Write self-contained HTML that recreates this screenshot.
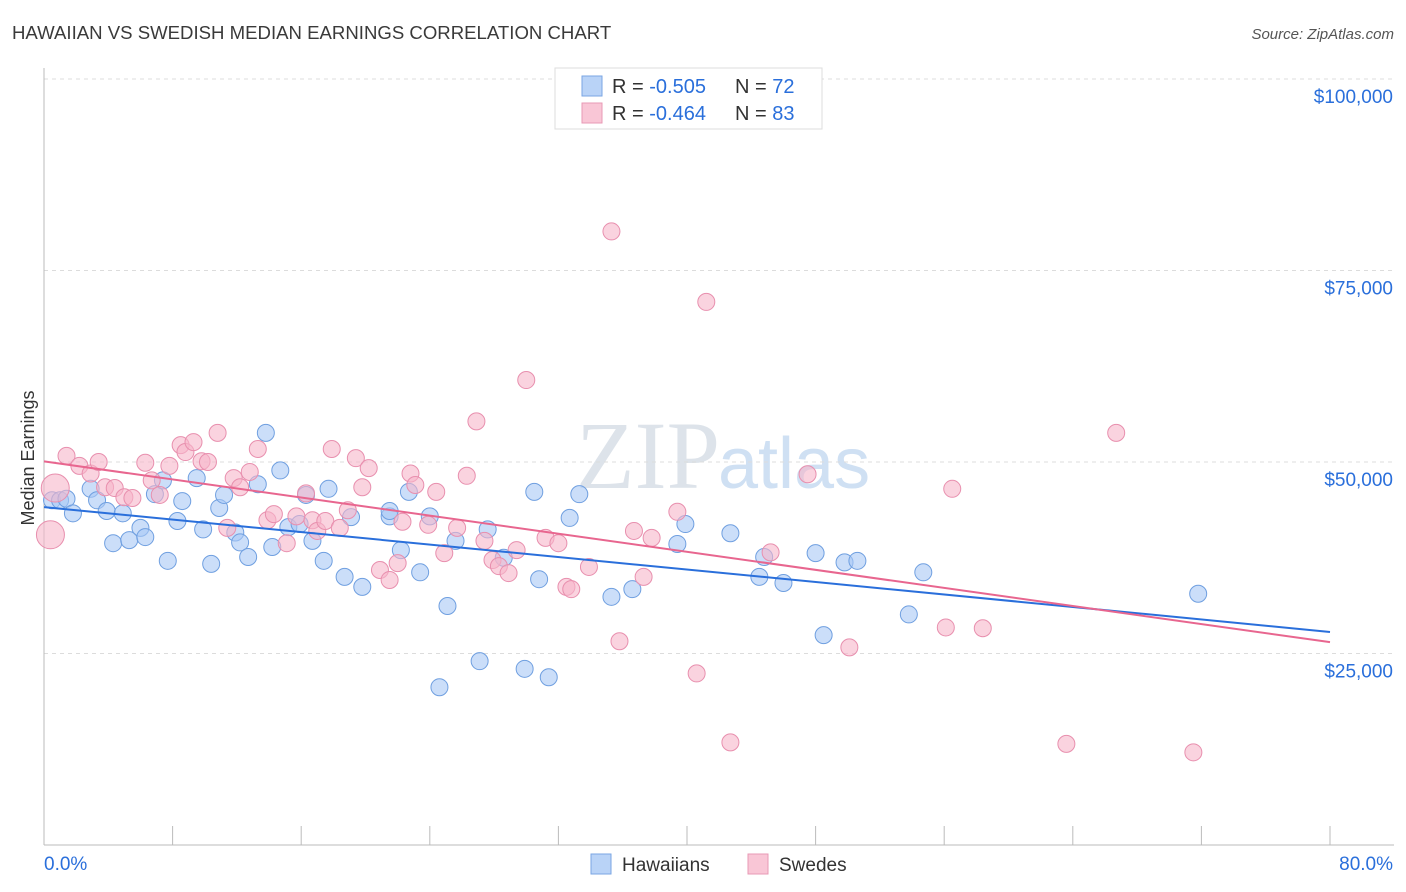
<!DOCTYPE html>
<html><head><meta charset="utf-8"><style>
body{margin:0;background:#fff;font-family:"Liberation Sans",sans-serif}
svg{display:block}
</style></head><body>
<svg id="chart" width="1406" height="892">
<text x="12" y="39" font-size="18.6" fill="#3a3a3a">HAWAIIAN VS SWEDISH MEDIAN EARNINGS CORRELATION CHART</text>
<text x="1394" y="39" font-size="15" fill="#555" font-style="italic" text-anchor="end">Source: ZipAtlas.com</text>
<text x="720" y="488" font-size="96" fill="#dde3ea" font-family="Liberation Serif,serif" text-anchor="end">ZIP</text>
<text x="718" y="488" font-size="72" fill="#cfe0f3">atlas</text>
<text transform="translate(34,458) rotate(-90)" font-size="18" fill="#333" text-anchor="middle">Median Earnings</text>
<g id="grid"></g><g id="marks"></g><g id="lines"></g>
<g>
<rect x="555" y="68" width="267" height="61" fill="#fff" stroke="#ddd"/>
<rect x="582" y="76" width="20" height="20" fill="#b9d3f7" stroke="#7aa6e3"/>
<rect x="582" y="103" width="20" height="20" fill="#f9c6d6" stroke="#e899b5"/>
<text x="612" y="93" font-size="20" fill="#333">R = <tspan fill="#2a6fdb">-0.505</tspan></text>
<text x="735" y="93" font-size="20" fill="#333">N = <tspan fill="#2a6fdb">72</tspan></text>
<text x="612" y="120" font-size="20" fill="#333">R = <tspan fill="#2a6fdb">-0.464</tspan></text>
<text x="735" y="120" font-size="20" fill="#333">N = <tspan fill="#2a6fdb">83</tspan></text>
</g>
<g>
<rect x="591" y="854" width="20" height="20" fill="#b9d3f7" stroke="#7aa6e3"/>
<text x="622" y="871" font-size="19" fill="#333">Hawaiians</text>
<rect x="748" y="854" width="20" height="20" fill="#f9c6d6" stroke="#e899b5"/>
<text x="779" y="871" font-size="19" fill="#333">Swedes</text>
</g>
</svg>
<script>
const xTickLabels=["0.0%","80.0%"];
const yTicks=[25000,50000,75000,100000];
const yTickLabels=["$25,000","$50,000","$75,000","$100,000"];
const hawX=[0.5,1.0,1.4,1.8,2.9,3.3,3.9,4.3,4.9,5.3,6.0,6.3,6.9,7.4,7.7,8.3,8.6,9.5,9.9,10.4,10.9,11.2,11.9,12.2,12.7,13.3,13.8,14.2,14.7,15.2,15.9,16.3,16.7,17.4,17.7,18.7,19.1,19.8,21.5,21.5,22.2,22.7,23.4,24.0,24.6,25.1,25.6,27.1,27.6,28.6,29.9,30.5,30.8,31.4,32.7,33.3,35.3,36.6,39.4,39.9,42.7,44.5,44.8,46.0,48.0,48.5,49.8,50.6,53.8,54.7,71.8];
const hawY=[45000,45000,45200,43300,46500,45000,43600,39400,43300,39800,41400,40200,45800,47600,37100,42300,44900,47900,41200,36700,44000,45700,40800,39500,37600,47100,53800,38900,48900,41500,41900,45700,39700,37100,46500,35000,42800,33700,42900,43600,38500,46100,35600,42900,20600,31200,39700,24000,41200,37500,23000,46100,34700,21900,42700,45800,32400,33400,39300,41900,40700,35000,37600,34200,38100,27400,36900,37100,30100,35600,32800];
const sweX=[0.4,0.7,1.4,2.2,2.9,3.4,3.8,4.4,5.0,5.5,6.3,6.7,7.2,7.8,8.5,8.8,9.3,9.8,10.2,10.8,11.4,11.8,12.2,12.8,13.3,13.9,14.3,15.1,15.7,16.3,16.7,17.0,17.5,17.9,18.4,18.9,19.4,19.8,20.2,20.9,21.5,22.0,22.3,22.8,23.1,23.9,24.4,24.9,25.7,26.3,26.9,27.4,27.9,28.3,28.9,29.4,30.0,31.2,32.0,32.5,32.8,33.9,35.3,35.8,36.7,37.3,37.8,39.4,40.6,41.2,42.7,45.2,47.5,50.1,56.1,56.5,58.4,63.6,66.7,71.5];
const sweY=[40500,46600,50800,49500,48500,50000,46700,46600,45400,45300,49900,47600,45700,49500,52200,51300,52600,50100,50000,53800,41400,47900,46700,48700,51700,42400,43200,39400,42900,45900,42400,41000,42300,51700,41400,43700,50500,46700,49200,35900,34600,36800,42200,48500,47000,41800,46100,38100,41400,48200,55300,39700,37200,36400,35500,38500,60700,40100,39400,33700,33400,36300,80100,26600,41000,35000,40100,43500,22400,70900,13400,38200,48400,25800,28400,46500,28300,13200,53800,12100];
const NS="http://www.w3.org/2000/svg";
const X0=44,X1=1330,Y0=845,PX=191.5/25000;
const sx=v=>X0+(v/80)*(X1-X0), sy=v=>Y0-v*PX;
function el(t,a,p){const e=document.createElementNS(NS,t);for(const k in a)e.setAttribute(k,a[k]);p.appendChild(e);return e;}
const grid=document.getElementById('grid'),marks=document.getElementById('marks'),lines=document.getElementById('lines');
yTicks.forEach((t,i)=>{
 const g=el('line',{x1:X0,x2:1394,y1:sy(t),y2:sy(t),stroke:'#dcdcdc','stroke-dasharray':'4,4'},grid);
 
 
 const tx=el('text',{x:1393,y:sy(t)+24,'font-size':19,fill:'#2a6fdb','text-anchor':'end'},grid);
 tx.textContent=yTickLabels[i];
 
 
});
const ax=el('line',{x1:X0,x2:X0,y1:68,y2:Y0,stroke:'#bbb'},grid);


const bx=el('line',{x1:X0,x2:1394,y1:Y0,y2:Y0,stroke:'#bbb'},grid);


for(let i=0;i<=10;i++){
 const tk=el('line',{x1:sx(i*8),x2:sx(i*8),y1:826,y2:Y0,stroke:'#bbb'},grid);
 
 
}
const xl0=el('text',{x:44,y:870,'font-size':19,fill:'#2a6fdb'},grid);xl0.textContent=xTickLabels[0];


const xl1=el('text',{x:1393,y:870,'font-size':19,fill:'#2a6fdb','text-anchor':'end'},grid);xl1.textContent=xTickLabels[1];


function pts(xs,ys,fill,stroke,name,big){
 xs.forEach((x,i)=>{
  const c=el('circle',{cx:sx(x),cy:sy(ys[i]),r:(big&&i<2)?14:8.5,fill:fill,'fill-opacity':0.6,stroke:stroke,'stroke-width':1},marks);
  
  
 });
}
pts(hawX,hawY,'#a9c8f5','#6f9fe0','hawaiians-point',false);
pts(sweX,sweY,'#f7b5ca','#e88fae','swedes-point',true);
function fit(xs,ys){const n=xs.length;let mx=0,my=0;xs.forEach((x,i)=>{mx+=x;my+=ys[i]});mx/=n;my/=n;let a=0,b=0;xs.forEach((x,i)=>{a+=(x-mx)*(ys[i]-my);b+=(x-mx)**2});const s=a/b;return [s,my-s*mx];}
[[hawX,hawY,'#2a6fdb','hawaiians-trendline'],[sweX,sweY,'#e8668f','swedes-trendline']].forEach(([xs,ys,c,n])=>{
 const [s,b]=fit(xs,ys);
 const l=el('line',{x1:sx(0),y1:sy(b),x2:sx(80),y2:sy(b+s*80),stroke:c,'stroke-width':2},lines);
 
 
});
</script>
</body></html>
